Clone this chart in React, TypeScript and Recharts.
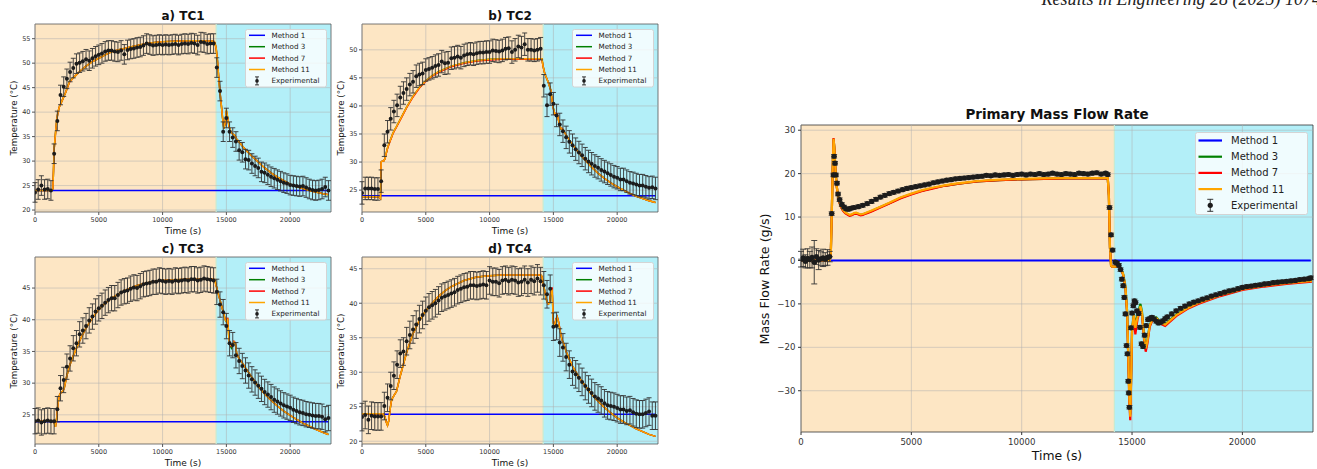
import React from "react";
import { ComposedChart, Line, Scatter, ErrorBar, XAxis, YAxis, ReferenceArea, ReferenceLine } from "recharts";

const FONT = "'DejaVu Sans', Verdana, sans-serif";
const ORANGE_BG = "#fde6c4";
const CYAN_BG = "#b3eff8";
const X_MAX = 23200;
const SWITCH_T = 14200;
const X_TICKS = [0, 5000, 10000, 15000, 20000];

const LEGEND_LABELS = ["Method 1", "Method 3", "Method 7", "Method 11", "Experimental"];
const METHOD_COLORS = ["#0000ff", "#008000", "#ff0000", "#ffa500"];

// ---- thermocouple experimental points (every 250 s) ----
const tcTime = [
  0, 250, 500, 750, 1000, 1250, 1500, 1750, 2000, 2250,
  2500, 2750, 3000, 3250, 3500, 3750, 4000, 4250, 4500, 4750,
  5000, 5250, 5500, 5750, 6000, 6250, 6500, 6750, 7000, 7250,
  7500, 7750, 8000, 8250, 8500, 8750, 9000, 9250, 9500, 9750,
  10000, 10250, 10500, 10750, 11000, 11250, 11500, 11750, 12000, 12250,
  12500, 12750, 13000, 13250, 13500, 13750, 14000, 14250, 14500, 14750,
  15000, 15250, 15500, 15750, 16000, 16250, 16500, 16750, 17000, 17250,
  17500, 17750, 18000, 18250, 18500, 18750, 19000, 19250, 19500, 19750,
  20000, 20250, 20500, 20750, 21000, 21250, 21500, 21750, 22000, 22250,
  22500, 22750, 23000,
];
const TC_ERR = 2.0;

const tc1Exp = [
  23.6, 24.2, 25.0, 24.2, 24.3, 24.0, 31.5, 38.2, 43.5, 45.2,
  46.8, 48.2, 49.0, 49.9, 50.1, 50.4, 50.8, 50.5, 51.0, 51.4,
  51.7, 52.0, 52.4, 52.6, 52.6, 52.4, 52.3, 52.6, 51.8, 52.7,
  52.9, 53.0, 53.2, 53.3, 53.6, 54.0, 53.8, 53.6, 53.7, 53.8,
  53.7, 53.8, 53.7, 53.8, 53.9, 53.7, 53.9, 54.0, 53.9, 54.1,
  54.0, 53.7, 54.3, 54.2, 53.9, 54.0, 54.0, 49.1, 44.3, 36.0,
  38.8, 36.0, 34.8, 34.0, 32.2, 31.8, 30.4, 30.2, 29.5, 29.0,
  28.6, 27.8, 27.6, 27.2, 26.8, 26.5, 26.2, 25.9, 25.6, 25.4,
  25.1, 25.0, 24.9, 24.8, 24.9, 24.6, 24.3, 24.1, 24.0, 24.1,
  24.3, 24.7, 24.0,
];
const tc2Exp = [
  24.5, 25.3, 25.3, 25.3, 25.2, 25.2, 26.6, 33.0, 35.4, 37.7,
  39.0, 40.1, 41.5, 42.3, 43.0, 43.8, 44.3, 45.3, 45.6, 45.8,
  46.4, 46.6, 46.8, 47.1, 47.3, 47.9, 47.6, 47.7, 48.5, 48.6,
  48.8, 48.6, 49.0, 49.2, 49.3, 49.2, 49.4, 49.5, 49.5, 49.6,
  49.6, 49.9, 49.8, 49.7, 49.9, 50.2, 50.3, 49.6, 50.0, 50.6,
  50.4, 51.0, 50.0, 50.0, 49.9, 50.0, 50.2, 43.6, 40.1, 42.1,
  40.4, 38.3, 36.7, 35.5, 34.4, 33.6, 33.0, 32.3, 31.7, 31.2,
  30.6, 30.1, 29.7, 29.3, 29.0, 28.6, 28.3, 28.0, 27.7, 27.4,
  27.2, 26.9, 26.9, 26.6, 26.3, 26.2, 26.0, 25.8, 25.8, 25.6,
  25.4, 25.5, 25.3,
];
const tc3Exp = [
  24.0, 24.1, 23.8, 24.0, 24.1, 24.0, 24.0, 25.9, 29.2, 30.5,
  32.6, 33.9, 35.5, 36.3, 37.7, 38.3, 39.0, 39.9, 40.5, 41.3,
  41.8, 42.2, 42.7, 43.1, 43.4, 43.4, 43.9, 44.3, 44.5, 44.6,
  44.9, 45.1, 45.0, 45.3, 45.6, 45.7, 45.8, 46.0, 46.0, 46.2,
  46.1, 46.0, 46.1, 46.0, 46.2, 46.1, 46.2, 46.3, 46.2, 46.4,
  46.4, 46.2, 46.3, 46.5, 46.4, 46.3, 46.2, 44.4, 42.4, 41.2,
  39.0, 36.3, 36.0, 34.4, 33.5, 32.7, 32.0, 31.2, 30.6, 30.1,
  29.6, 29.1, 28.6, 28.2, 27.8, 27.4, 27.1, 26.8, 26.5, 26.3,
  26.1, 25.8, 25.6, 25.4, 25.3, 25.1, 25.0, 24.9, 24.8, 24.8,
  24.7, 24.3, 24.5,
];
const tc4Exp = [
  23.5, 23.8, 23.1, 23.7, 23.6, 23.6, 23.6, 25.1, 26.3, 28.0,
  29.5, 31.1, 32.7, 33.0, 34.5, 35.4, 36.2, 36.9, 37.7, 38.3,
  38.9, 39.4, 39.7, 40.0, 40.4, 40.8, 41.0, 41.2, 41.4, 41.6,
  41.9, 42.1, 42.3, 42.4, 42.6, 42.6, 42.5, 42.6, 42.7, 42.6,
  43.3, 43.1, 43.1, 42.9, 43.3, 43.4, 43.2, 43.4, 43.3, 43.0,
  43.1, 43.4, 43.0, 43.4, 43.2, 43.6, 43.2, 42.6, 41.3, 42.1,
  36.6, 36.7, 34.3, 33.6, 32.2, 31.1, 30.1, 29.7, 29.2, 28.6,
  28.0, 27.5, 27.0, 26.5, 26.2, 25.9, 25.5, 25.2, 25.1, 25.0,
  24.8, 24.6, 24.6, 24.4, 24.5, 24.2, 24.0, 23.9, 23.9, 24.1,
  24.3, 23.7, 23.7,
];

// ---- thermocouple model curves ----
const tcModelTime = [
  0, 1300, 1400, 1450, 1500, 1600, 1700, 1800, 1900, 2000,
  2100, 2200, 2300, 2400, 2500, 2700, 3000, 3500, 4000, 4500,
  5000, 5500, 6000, 6500, 7000, 8000, 9000, 10000, 11000, 12000,
  13000, 14000, 14100, 14200, 14300, 14400, 14500, 14600, 14700, 14800,
  14900, 15000, 15100, 15200, 15300, 15400, 15500, 15600, 15700, 15800,
  16000, 16250, 16500, 17000, 17500, 18000, 18500, 19000, 19500, 20000,
  20500, 21000, 21500, 22000, 22500, 23000,
];
const method1Time = [0, 23000];

const tc1M1 = [24.0, 24.0];
const tc1M11 = [
  24.0, 24.0, 24.3, 28.0, 32.5, 35.5, 38.3, 40.0, 41.0, 41.6,
  42.2, 42.8, 43.4, 44.0, 44.7, 46.2, 47.0, 48.3, 49.4, 50.3,
  51.0, 51.7, 52.3, 52.7, 53.0, 53.6, 54.1, 54.4, 54.5, 54.6,
  54.6, 54.5, 54.2, 53.0, 50.5, 47.0, 44.0, 41.5, 38.8, 36.6,
  37.8, 40.5, 39.0, 37.2, 36.3, 35.8, 35.5, 35.4, 35.1, 34.5,
  33.9, 33.1, 32.3, 31.0, 29.8, 28.6, 27.6, 26.7, 26.0, 25.3,
  24.8, 24.4, 24.0, 23.7, 23.4, 23.1,
];
const tc1M7 = [
  24.0, 24.0, 24.3, 28.0, 32.4, 35.4, 38.2, 40.0, 41.0, 41.6,
  42.2, 42.8, 43.4, 44.0, 44.7, 46.1, 47.0, 48.3, 49.4, 50.3,
  51.0, 51.7, 52.3, 52.7, 53.0, 53.6, 54.1, 54.4, 54.5, 54.6,
  54.6, 54.5, 54.2, 53.0, 50.6, 47.1, 44.1, 41.6, 38.9, 36.7,
  37.6, 40.2, 38.8, 37.1, 36.3, 35.8, 35.5, 35.4, 35.1, 34.5,
  33.9, 33.1, 32.3, 31.0, 29.8, 28.6, 27.6, 26.7, 26.0, 25.3,
  24.8, 24.4, 24.0, 23.7, 23.4, 23.2,
];
const tc1M3 = [
  24.0, 24.0, 24.3, 28.0, 32.5, 35.5, 38.3, 40.0, 41.0, 41.6,
  42.2, 42.8, 43.4, 44.0, 44.7, 46.2, 47.0, 48.3, 49.4, 50.3,
  51.0, 51.7, 52.3, 52.7, 53.0, 53.6, 54.1, 54.4, 54.5, 54.6,
  54.6, 54.5, 54.2, 53.0, 50.5, 47.0, 44.0, 41.5, 38.8, 36.6,
  37.7, 40.3, 38.9, 37.2, 36.3, 35.8, 35.5, 35.4, 35.1, 34.5,
  33.9, 33.1, 32.3, 31.0, 29.8, 28.6, 27.6, 26.7, 26.0, 25.3,
  24.8, 24.4, 24.0, 23.7, 23.4, 23.1,
];

const tc2M1 = [24.0, 24.0];
const tc2M11 = [
  23.8, 23.8, 23.6, 23.5, 30.0, 30.2, 30.2, 30.6, 31.6, 32.5,
  33.2, 33.8, 34.4, 35.0, 35.5, 36.3, 37.6, 39.8, 41.7, 43.3,
  44.5, 45.4, 46.1, 46.6, 47.1, 47.7, 48.1, 48.3, 48.4, 48.4,
  48.4, 48.4, 48.4, 47.0, 46.0, 45.3, 44.8, 44.2, 43.5, 42.8,
  41.0, 39.6, 38.6, 38.6, 38.5, 37.5, 36.6, 35.9, 35.9, 35.6,
  34.8, 33.9, 33.1, 31.6, 30.3, 29.1, 28.0, 27.1, 26.3, 25.6,
  25.0, 24.4, 23.9, 23.5, 23.1, 22.8,
];
const tc2M7 = [
  23.8, 23.8, 23.6, 23.5, 30.0, 30.2, 30.2, 30.6, 31.5, 32.4,
  33.1, 33.7, 34.3, 34.9, 35.4, 36.2, 37.5, 39.7, 41.6, 43.2,
  44.4, 45.3, 46.0, 46.5, 47.0, 47.6, 48.0, 48.2, 48.3, 48.3,
  48.3, 48.3, 48.3, 47.0, 46.0, 45.3, 44.8, 44.2, 43.5, 42.8,
  41.0, 39.5, 38.5, 38.7, 38.6, 37.5, 36.6, 35.9, 36.0, 35.6,
  34.8, 33.9, 33.1, 31.6, 30.3, 29.1, 28.0, 27.1, 26.3, 25.6,
  25.0, 24.4, 23.9, 23.5, 23.1, 22.8,
];
const tc2M3 = [
  23.8, 23.8, 23.6, 23.5, 30.0, 30.2, 30.2, 30.6, 31.6, 32.5,
  33.2, 33.8, 34.4, 35.0, 35.5, 36.3, 37.6, 39.8, 41.7, 43.3,
  44.5, 45.4, 46.1, 46.6, 47.1, 47.7, 48.1, 48.3, 48.4, 48.4,
  48.4, 48.4, 48.4, 47.0, 46.0, 45.3, 44.8, 44.2, 43.5, 42.8,
  41.0, 39.6, 38.6, 38.6, 38.5, 37.5, 36.6, 35.9, 35.9, 35.6,
  34.8, 33.9, 33.1, 31.6, 30.3, 29.1, 28.0, 27.1, 26.3, 25.6,
  25.0, 24.4, 23.9, 23.5, 23.1, 22.8,
];

const tc3M1 = [23.9, 23.9];
const tc3M11 = [
  24.0, 24.0, 24.0, 23.9, 23.8, 23.1, 24.5, 26.8, 28.0, 28.4,
  28.6, 28.8, 29.3, 30.3, 31.2, 32.7, 34.3, 36.7, 38.7, 40.3,
  41.6, 42.6, 43.4, 44.0, 44.6, 45.4, 45.9, 46.2, 46.3, 46.4,
  46.4, 46.4, 46.2, 45.4, 44.6, 43.8, 43.1, 42.4, 41.6, 40.9,
  40.0, 39.7, 40.0, 37.0, 36.0, 35.9, 36.0, 36.5, 36.3, 34.8,
  33.8, 33.2, 32.4, 30.9, 29.5, 28.3, 27.3, 26.4, 25.6, 24.9,
  24.3, 23.7, 23.2, 22.7, 22.3, 21.9,
];
const tc3M7 = [
  24.0, 24.0, 24.0, 23.9, 23.8, 23.1, 24.5, 26.8, 28.0, 28.4,
  28.6, 28.8, 29.3, 30.3, 31.2, 32.7, 34.3, 36.7, 38.7, 40.3,
  41.6, 42.6, 43.4, 44.0, 44.6, 45.4, 45.9, 46.2, 46.3, 46.4,
  46.4, 46.4, 46.2, 45.4, 44.6, 43.8, 43.1, 42.4, 41.6, 40.9,
  40.1, 39.8, 40.3, 37.1, 36.0, 35.8, 36.0, 36.6, 36.4, 34.8,
  33.8, 33.2, 32.4, 30.9, 29.5, 28.3, 27.3, 26.4, 25.6, 24.9,
  24.3, 23.7, 23.2, 22.7, 22.3, 21.9,
];
const tc3M3 = [
  24.0, 24.0, 24.0, 23.9, 23.8, 23.1, 24.5, 26.8, 28.0, 28.4,
  28.6, 28.8, 29.3, 30.3, 31.2, 32.7, 34.3, 36.7, 38.7, 40.3,
  41.6, 42.6, 43.4, 44.0, 44.6, 45.4, 45.9, 46.2, 46.3, 46.4,
  46.4, 46.4, 46.2, 45.4, 44.6, 43.8, 43.1, 42.4, 41.6, 40.9,
  40.0, 39.7, 40.0, 37.0, 35.9, 35.5, 36.0, 36.5, 36.3, 34.8,
  33.8, 33.2, 32.4, 30.9, 29.5, 28.3, 27.3, 26.4, 25.6, 24.9,
  24.3, 23.7, 23.2, 22.7, 22.3, 21.9,
];

const tc4M1 = [23.9, 23.9];
const tc4M11 = [
  24.0, 24.0, 24.0, 24.0, 24.0, 24.0, 23.9, 23.5, 22.8, 22.3,
  23.0, 24.6, 25.8, 26.3, 26.6, 27.2, 29.5, 32.9, 35.6, 37.5,
  38.9, 40.0, 41.0, 41.8, 42.4, 43.3, 43.8, 44.0, 44.1, 44.1,
  44.1, 44.1, 43.9, 43.0, 42.0, 41.0, 40.2, 39.9, 40.0, 41.5,
  42.0, 37.0, 36.8, 37.6, 38.0, 37.3, 36.3, 35.3, 34.6, 34.2,
  33.0, 31.9, 30.9, 29.3, 28.0, 26.8, 25.8, 24.9, 24.1, 23.4,
  22.8, 22.3, 21.8, 21.4, 21.0, 20.7,
];
const tc4M7 = [
  24.0, 24.0, 24.0, 24.0, 24.0, 24.0, 23.9, 23.5, 22.8, 22.3,
  23.0, 24.6, 25.8, 26.3, 26.6, 27.2, 29.5, 32.9, 35.6, 37.5,
  38.9, 40.0, 41.0, 41.8, 42.4, 43.3, 43.8, 44.0, 44.1, 44.1,
  44.1, 44.1, 43.9, 43.0, 42.0, 41.0, 40.2, 39.9, 40.1, 41.7,
  42.3, 37.1, 36.9, 37.7, 38.1, 37.4, 36.4, 35.3, 34.6, 34.2,
  33.0, 31.9, 30.9, 29.3, 28.0, 26.8, 25.8, 24.9, 24.1, 23.4,
  22.8, 22.3, 21.8, 21.4, 21.0, 20.7,
];
const tc4M3 = [
  24.0, 24.0, 24.0, 24.0, 24.0, 24.0, 23.9, 23.5, 22.8, 22.3,
  23.0, 24.6, 25.8, 26.3, 26.6, 27.2, 29.5, 32.9, 35.6, 37.5,
  38.9, 40.0, 41.0, 41.8, 42.4, 43.3, 43.8, 44.0, 44.1, 44.1,
  44.1, 44.1, 43.9, 43.0, 42.0, 41.0, 40.2, 39.9, 40.0, 41.5,
  42.0, 37.0, 36.8, 37.6, 38.0, 37.3, 36.3, 35.3, 34.6, 34.2,
  33.0, 31.9, 30.9, 29.3, 28.0, 26.8, 25.8, 24.9, 24.1, 23.4,
  22.8, 22.3, 21.8, 21.4, 21.0, 20.7,
];

// ---- primary mass flow rate ----
const flowExpTime = [
  0, 100, 200, 300, 400, 500, 600, 700, 800, 900,
  1000, 1100, 1200, 1300, 1390, 1470, 1500, 1540, 1580, 1630,
  1680, 1750, 1850, 1950, 2050, 2150, 2250, 2400, 2600, 2800,
  3000, 3200, 3400, 3600, 3800, 4000, 4200, 4400, 4600, 4800,
  5000, 5200, 5400, 5600, 5800, 6000, 6200, 6400, 6600, 6800,
  7000, 7200, 7400, 7600, 7800, 8000, 8200, 8400, 8600, 8800,
  9000, 9200, 9400, 9600, 9800, 10000, 10200, 10400, 10600, 10800,
  11000, 11200, 11400, 11600, 11800, 12000, 12200, 12400, 12600, 12800,
  13000, 13200, 13400, 13600, 13800, 13900, 13980, 14050, 14120, 14240,
  14320, 14400, 14480, 14540, 14600, 14650, 14700, 14750, 14790, 14830,
  14850, 14880, 14950, 15000, 15060, 15110, 15160, 15220, 15300, 15360,
  15430, 15500, 15570, 15640, 15720, 15800, 15900, 16000, 16100, 16200,
  16300, 16400, 16500, 16600, 16800, 17000, 17200, 17400, 17600, 17800,
  18000, 18200, 18400, 18600, 18800, 19000, 19200, 19400, 19600, 19800,
  20000, 20200, 20400, 20600, 20800, 21000, 21200, 21400, 21600, 21800,
  22000, 22200, 22400, 22600, 22800, 23000, 23100,
];
const flowExpValue = [
  0.3, 0.6, -0.2, 0.5, 0.2, 0.7, -0.4, 0.9, 0.1, 0.4,
  0.6, 0.3, 0.7, 0.9, 10.8, 19.7, 24.0, 22.4, 19.7, 17.8,
  15.3, 14.0, 12.9, 12.3, 11.9, 11.8, 12.0, 12.2, 12.4, 12.7,
  13.1, 13.6, 14.1, 14.6, 15.0, 15.4, 15.7, 16.0, 16.3, 16.6,
  16.8, 17.0, 17.2, 17.4, 17.6, 17.9, 18.1, 18.3, 18.5, 18.6,
  18.8, 18.9, 19.0, 19.1, 19.2, 19.3, 19.4, 19.6, 19.5, 19.7,
  19.6, 19.7, 19.8, 19.6, 19.8, 19.9, 19.7, 19.9, 19.8, 20.0,
  19.8, 19.9, 20.1, 19.9, 19.8, 20.0, 19.9, 19.8, 20.1, 20.0,
  19.9, 20.1, 20.2, 19.9, 20.1, 19.8, 12.2, 5.9, 2.4, -0.4,
  -0.6, -1.1, -2.1, -4.3, -5.8, -8.5, -12.3, -19.6, -21.5, -27.8,
  -30.5, -33.8, -15.5, -12.1, -10.4, -9.3, -9.7, -11.6, -12.2, -15.4,
  -19.2, -19.8, -17.2, -15.0, -13.6, -13.4, -13.1, -13.5, -14.0, -14.4,
  -14.2, -13.9, -13.4, -13.0, -12.3, -11.6, -11.0, -10.5, -10.0, -9.6,
  -9.3, -8.9, -8.6, -8.2, -7.9, -7.6, -7.3, -7.0, -6.8, -6.5,
  -6.2, -6.0, -5.9, -5.7, -5.6, -5.4, -5.3, -5.1, -5.0, -4.9,
  -4.8, -4.7, -4.6, -4.4, -4.3, -4.2, -4.0,
];
// vertical error of the first (no-flow) readings; later readings share one small error
const flowStartErr = [1.8, 2.0, 1.5, 2.2, 1.9, 2.4, 5.0, 1.8, 2.2, 1.6, 2.0, 1.5, 1.8, 1.2];
const FLOW_ERR = 0.4;
const FLOW_TIME_ERR = 130;

const flowModelTime = [
  0, 1300, 1350, 1400, 1440, 1475, 1510, 1560, 1620, 1700,
  1800, 1900, 2000, 2100, 2200, 2300, 2400, 2500, 2600, 2700,
  2800, 2900, 3000, 3200, 3600, 4000, 4500, 5000, 5500, 6000,
  6500, 7000, 7500, 8000, 9000, 10000, 11000, 12000, 13000, 13900,
  13950, 14000, 14050, 14100, 14300, 14400, 14500, 14600, 14700, 14780,
  14830, 14880, 14920, 14960, 15000, 15080, 15150, 15250, 15380, 15450,
  15550, 15620, 15700, 15800, 15950, 16100, 16300, 16500, 17000, 17500,
  18000, 19000, 20000, 21000, 22000, 23150,
];
const flowM1Time = [0, 23100];
const flowM1 = [0, 0];
const flowM11 = [
  0, 0, 1.5, 12, 22, 28, 26, 21, 17, 14.2,
  12.6, 11.7, 11.1, 10.8, 10.5, 10.6, 10.9, 11.0, 10.8, 10.6,
  10.7, 10.9, 11.1, 11.5, 12.4, 13.3, 14.5, 15.4, 16.2, 16.8,
  17.3, 17.7, 18.0, 18.3, 18.6, 18.8, 18.9, 19.0, 19.0, 19.0,
  15, 3, -1.2, -1.4, -1.4, -1.3, -1.8, -3.2, -6, -12,
  -22, -32, -36, -27, -16, -12.5, -15.5, -13, -10.5, -12,
  -18, -20.3, -18.5, -15, -13.3, -13.2, -14.3, -14.8, -12.6, -11.0,
  -9.8, -8.0, -6.6, -5.8, -5.2, -4.7,
];
const flowM7 = [
  0, 0, 1.5, 12, 22, 28.2, 26, 21, 17, 14.0,
  12.4, 11.5, 10.9, 10.6, 10.3, 10.4, 10.7, 10.8, 10.6, 10.4,
  10.5, 10.7, 10.9, 11.3, 12.2, 13.1, 14.3, 15.2, 16.0, 16.6,
  17.2, 17.6, 17.9, 18.2, 18.5, 18.7, 18.8, 18.9, 18.9, 18.9,
  15, 3, -1.2, -1.4, -1.4, -1.3, -1.9, -3.4, -6.3, -12.5,
  -23, -33, -36.8, -27, -16.5, -13, -17, -13.5, -11, -12.5,
  -18.5, -21, -19, -15.3, -13.5, -13.4, -14.6, -15.1, -12.8, -11.2,
  -10.0, -8.2, -6.8, -6.0, -5.4, -4.9,
];
const flowM3 = [
  0, 0, 1.5, 12, 22, 28, 26, 21, 17, 14.1,
  12.5, 11.6, 11.0, 10.7, 10.4, 10.5, 10.8, 10.9, 10.7, 10.5,
  10.6, 10.8, 11.0, 11.4, 12.3, 13.2, 14.4, 15.3, 16.1, 16.7,
  17.2, 17.6, 17.9, 18.2, 18.5, 18.7, 18.8, 18.9, 18.9, 18.9,
  15, 3, -1.2, -1.4, -1.4, -1.3, -1.8, -3.2, -6, -12,
  -22, -31.5, -35.5, -26.5, -16, -12.3, -15, -12.5, -10.0, -11.8,
  -17.8, -20, -18.3, -14.9, -13.2, -13.1, -14.2, -14.7, -12.5, -10.9,
  -9.7, -7.9, -6.5, -5.7, -5.1, -4.6,
];

type Pt = { t: number; v: number; e?: number; xe?: number };

const toPts = (ts: number[], vs: number[]): Pt[] => ts.map((t, i) => ({ t, v: vs[i] }));
const tcExpPts = (vs: number[]): Pt[] => tcTime.map((t, i) => ({ t, v: vs[i], e: TC_ERR }));
const flowExpPts: Pt[] = flowExpTime.map((t, i) => ({
  t,
  v: flowExpValue[i],
  e: i < flowStartErr.length ? flowStartErr[i] : FLOW_ERR,
  xe: FLOW_TIME_ERR,
}));

const fmtTick = (v: number) => (v < 0 ? "\u2212" + Math.abs(v) : String(v));

interface PanelProps {
  x: number;
  y: number;
  w: number;
  h: number;
  yDomain: [number, number];
  yTicks: number[];
  series: Pt[][]; // m1, m3, m7, m11
  exp: Pt[];
  big?: boolean;
}

function Panel(p: PanelProps) {
  const YW = 40, MT = 4, MR = 4, XH = 28;
  const frame = p.big ? "#333" : "#555";
  const lw = p.big ? 2.2 : 1.5;
  const r = p.big ? 2.6 : 2.0;
  const tick = { fontSize: p.big ? 8.6 : 6.5, fill: "#333", fontFamily: FONT };
  const grid = { stroke: "#b0b0b0", strokeWidth: 0.8, strokeOpacity: 0.65 };
  const dot = (props: any) => <circle cx={props.cx} cy={props.cy} r={r} fill="#1c1c1c" />;
  return (
    <div style={{ position: "absolute", left: p.x - YW, top: p.y - MT }}>
      <ComposedChart width={p.w + YW + MR} height={p.h + MT + XH} margin={{ top: MT, right: MR, bottom: 0, left: 0 }}>
        <XAxis
          type="number"
          dataKey="t"
          domain={[0, X_MAX]}
          ticks={X_TICKS}
          interval={0}
          allowDataOverflow
          height={XH}
          axisLine={false}
          tickLine={{ stroke: frame }}
          tickSize={3}
          tickMargin={p.big ? 3.5 : 2}
          tick={tick}
        />
        <YAxis
          type="number"
          dataKey="v"
          domain={p.yDomain}
          ticks={p.yTicks}
          interval={0}
          allowDataOverflow
          width={YW}
          axisLine={false}
          tickLine={{ stroke: frame }}
          tickSize={3}
          tickMargin={p.big ? 2.5 : 1.5}
          tick={tick}
          tickFormatter={fmtTick}
        />
        <ReferenceArea x1={0} x2={SWITCH_T} fill={ORANGE_BG} fillOpacity={1} stroke="none" />
        <ReferenceArea x1={SWITCH_T} x2={X_MAX} fill={CYAN_BG} fillOpacity={1} stroke="none" />
        <ReferenceLine x={SWITCH_T} stroke="#c6ead2" strokeWidth={1.2} />
        {X_TICKS.map((t) => (
          <ReferenceLine key={"gx" + t} x={t} {...grid} />
        ))}
        {p.yTicks.map((v) => (
          <ReferenceLine key={"gy" + v} y={v} {...grid} />
        ))}
        {p.series.map((s, i) => (
          <Line
            key={LEGEND_LABELS[i]}
            data={s}
            dataKey="v"
            stroke={METHOD_COLORS[i]}
            strokeWidth={lw}
            dot={false}
            activeDot={false}
            type="linear"
            isAnimationActive={false}
          />
        ))}
        <Scatter data={p.exp} dataKey="v" shape={dot} isAnimationActive={false}>
          <ErrorBar dataKey="e" direction="y" width={p.big ? 3 : 2.5} stroke="#333" strokeWidth={0.9} />
          {p.big && <ErrorBar dataKey="xe" direction="x" width={0} stroke="#333" strokeWidth={0.9} />}
        </Scatter>
        <ReferenceArea x1={0} x2={X_MAX} y1={p.yDomain[0]} y2={p.yDomain[1]} fill="none" stroke={frame} strokeWidth={0.8} />
      </ComposedChart>
    </div>
  );
}

interface LegendStyle {
  w: number; h: number; row0: number; rowH: number; l0: number; l1: number;
  tx: number; font: number; lw: number; bar: number; cap: number; dotR: number;
}
const smallLegend: LegendStyle = { w: 82, h: 58.5, row0: 6.3, rowH: 11.4, l0: 4, l1: 20, tx: 26.5, font: 7.2, lw: 1.5, bar: 4, cap: 2, dotR: 1.8 };
const bigLegend: LegendStyle = { w: 113, h: 83, row0: 8.5, rowH: 16.2, l0: 3.5, l1: 27, tx: 36, font: 10, lw: 2.2, bar: 6, cap: 3, dotR: 2.6 };

function LegendBox({ x, y, s }: { x: number; y: number; s: LegendStyle }) {
  const mid = (s.l0 + s.l1) / 2;
  return (
    <svg width={s.w} height={s.h} style={{ position: "absolute", left: x, top: y, overflow: "visible" }}>
      <rect x={0.5} y={0.5} width={s.w - 1} height={s.h - 1} rx={2} fill="#ffffff" fillOpacity={0.8} stroke="#d4d4d4" strokeWidth={1} />
      {LEGEND_LABELS.map((label, i) => {
        const cy = s.row0 + i * s.rowH;
        return (
          <g key={label}>
            {i < 4 ? (
              <line x1={s.l0} x2={s.l1} y1={cy} y2={cy} stroke={METHOD_COLORS[i]} strokeWidth={s.lw} />
            ) : (
              <g stroke="#222" strokeWidth={0.9}>
                <line x1={mid} x2={mid} y1={cy - s.bar} y2={cy + s.bar} />
                <line x1={mid - s.cap} x2={mid + s.cap} y1={cy - s.bar} y2={cy - s.bar} />
                <line x1={mid - s.cap} x2={mid + s.cap} y1={cy + s.bar} y2={cy + s.bar} />
                <circle cx={mid} cy={cy} r={s.dotR} fill="#1c1c1c" stroke="none" />
              </g>
            )}
            <text x={s.tx} y={cy} dominantBaseline="central" fontSize={s.font} fontFamily={FONT} fill="#222">
              {label}
            </text>
          </g>
        );
      })}
    </svg>
  );
}

function Txt({ x, y, size, bold, rotate, children }: { x: number; y: number; size: number; bold?: boolean; rotate?: boolean; children: React.ReactNode }) {
  return (
    <div
      style={{
        position: "absolute",
        left: x,
        top: y,
        transform: `translate(-50%, -50%)${rotate ? " rotate(-90deg)" : ""}`,
        fontFamily: FONT,
        fontSize: size,
        fontWeight: bold ? "bold" : "normal",
        color: "#111",
        whiteSpace: "nowrap",
        lineHeight: 1,
      }}
    >
      {children}
    </div>
  );
}

const tcPanels = [
  { title: "a) TC1", x: 35, y: 24, w: 296, h: 188, yDomain: [19.6, 58] as [number, number], yTicks: [20, 25, 30, 35, 40, 45, 50, 55],
    series: [toPts(method1Time, tc1M1), toPts(tcModelTime, tc1M3), toPts(tcModelTime, tc1M7), toPts(tcModelTime, tc1M11)], exp: tcExpPts(tc1Exp) },
  { title: "b) TC2", x: 362, y: 24, w: 296, h: 188, yDomain: [21.1, 54.6] as [number, number], yTicks: [25, 30, 35, 40, 45, 50],
    series: [toPts(method1Time, tc2M1), toPts(tcModelTime, tc2M3), toPts(tcModelTime, tc2M7), toPts(tcModelTime, tc2M11)], exp: tcExpPts(tc2Exp) },
  { title: "c) TC3", x: 35, y: 257, w: 296, h: 187, yDomain: [20.4, 49.9] as [number, number], yTicks: [25, 30, 35, 40, 45],
    series: [toPts(method1Time, tc3M1), toPts(tcModelTime, tc3M3), toPts(tcModelTime, tc3M7), toPts(tcModelTime, tc3M11)], exp: tcExpPts(tc3Exp) },
  { title: "d) TC4", x: 362, y: 257, w: 296, h: 187, yDomain: [19.6, 46.7] as [number, number], yTicks: [20, 25, 30, 35, 40, 45],
    series: [toPts(method1Time, tc4M1), toPts(tcModelTime, tc4M3), toPts(tcModelTime, tc4M7), toPts(tcModelTime, tc4M11)], exp: tcExpPts(tc4Exp) },
];

const flow = {
  x: 801, y: 125, w: 512, h: 307,
  yDomain: [-39.5, 31.2] as [number, number],
  yTicks: [-30, -20, -10, 0, 10, 20, 30],
  series: [toPts(flowM1Time, flowM1), toPts(flowModelTime, flowM3), toPts(flowModelTime, flowM7), toPts(flowModelTime, flowM11)],
  exp: flowExpPts,
};

export default function App() {
  return (
    <div style={{ position: "relative", width: 1317, height: 469, overflow: "hidden", background: "#fff" }}>
      <style>{"html,body{margin:0;padding:0;overflow:hidden;background:#fff}"}</style>
      <svg width={1317} height={20} style={{ position: "absolute", left: 0, top: 0 }}>
        <text x={1041.5} y={4.5} fontFamily="'Liberation Serif', 'DejaVu Serif', serif" fontStyle="italic" fontSize={18} fill="#222">
          Results in Engineering 28 (2025) 1074
        </text>
      </svg>

      {tcPanels.map((pnl) => (
        <React.Fragment key={pnl.title}>
          <Panel x={pnl.x} y={pnl.y} w={pnl.w} h={pnl.h} yDomain={pnl.yDomain} yTicks={pnl.yTicks} series={pnl.series} exp={pnl.exp} />
          <Txt x={pnl.x + pnl.w / 2} y={pnl.y - 8} size={12} bold>{pnl.title}</Txt>
          <Txt x={pnl.x + pnl.w / 2} y={pnl.y + pnl.h + 18.5} size={9}>Time (s)</Txt>
          <Txt x={pnl.x - 21} y={pnl.y + pnl.h / 2} size={8.7} rotate>Temperature (°C)</Txt>
          <LegendBox x={pnl.x + pnl.w - 4 - smallLegend.w} y={pnl.y + 4.5} s={smallLegend} />
        </React.Fragment>
      ))}

      <Panel x={flow.x} y={flow.y} w={flow.w} h={flow.h} yDomain={flow.yDomain} yTicks={flow.yTicks} series={flow.series} exp={flow.exp} big />
      <Txt x={flow.x + flow.w / 2} y={115} size={13.5} bold>Primary Mass Flow Rate</Txt>
      <Txt x={flow.x + flow.w / 2} y={456} size={12.4}>Time (s)</Txt>
      <Txt x={764.5} y={flow.y + flow.h / 2} size={12.7} rotate>Mass Flow Rate (g/s)</Txt>
      <LegendBox x={1195} y={131.7} s={bigLegend} />
    </div>
  );
}
